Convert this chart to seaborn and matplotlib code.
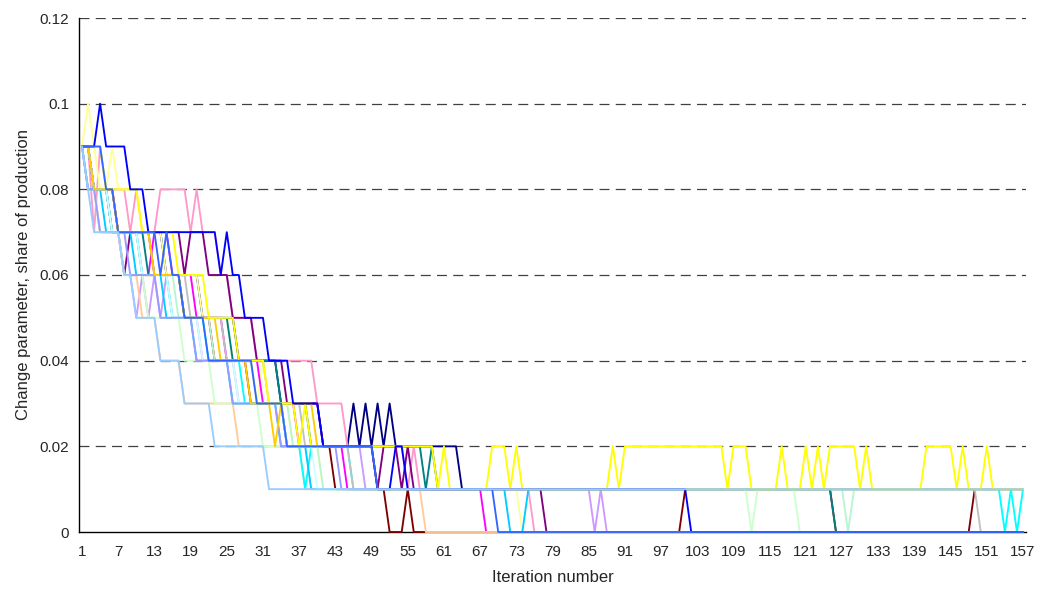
import numpy as np
import pandas as pd
import matplotlib
matplotlib.use("Agg")
import matplotlib.pyplot as plt
import seaborn as sns

# ---- data: each series as run-lengths of (value in hundredths, number of iterations)
iterations = list(range(1, 158))

runs_navy = [(9,2),(8,4),(7,8),(6,6),(5,6),(4,7),(3,7),(2,5),(3,1),(2,1),(3,1),(2,1),(3,1),(2,1),(3,1),(2,11),(1,94)]
runs_pink = [(9,2),(7,1),(9,1),(8,4),(7,1),(8,1),(7,3),(8,5),(7,1),(8,1),(7,3),(6,2),(5,4),(4,10),(3,5),(2,10),(1,1),(2,1),(1,19),(0,82)]
runs_lavender = [(9,1),(8,2),(7,4),(6,2),(5,1),(6,1),(5,1),(6,1),(5,1),(6,1),(5,5),(4,6),(3,8),(2,13),(1,38),(0,1),(1,1),(0,70)]
runs_pale_yellow = [(9,1),(10,1),(9,1),(8,2),(9,1),(8,4),(7,4),(6,6),(5,5),(4,4),(3,1),(4,1),(3,4),(2,5),(1,33),(0,84)]
runs_purple = [(9,2),(8,3),(7,2),(6,1),(7,9),(6,1),(7,3),(6,4),(5,4),(4,5),(3,6),(2,9),(1,1),(2,3),(1,1),(2,1),(1,22),(0,80)]
runs_magenta = [(9,2),(8,3),(7,5),(6,2),(7,3),(6,4),(5,5),(4,6),(3,6),(2,8),(1,23),(0,90)]
runs_maroon = [(9,2),(8,4),(7,6),(6,5),(5,5),(4,6),(3,6),(2,8),(1,9),(0,3),(1,1),(0,45),(1,25),(0,23),(1,9)]
runs_teal = [(9,2),(8,3),(7,6),(6,6),(5,8),(4,8),(3,5),(2,19),(1,1),(2,1),(1,66),(0,32)]
runs_tan = [(9,1),(8,2),(7,4),(6,3),(5,3),(4,4),(3,9),(2,11),(1,20),(0,100)]
runs_light_green = [(9,1),(8,2),(7,4),(6,4),(5,6),(4,5),(3,8),(2,8),(1,73),(0,1),(1,7),(0,38)]
runs_mint = [(9,2),(8,3),(7,5),(6,6),(5,6),(4,7),(3,6),(2,5),(1,87),(0,1),(1,29)]
runs_cyan = [(9,2),(8,3),(7,5),(6,5),(5,6),(4,6),(3,7),(2,3),(1,1),(2,7),(1,108),(0,1),(1,1),(0,1),(1,1)]
runs_sky = [(9,1),(8,3),(7,5),(6,5),(5,5),(4,6),(3,8),(2,5),(1,33),(0,3),(1,83)]
runs_light_cyan = [(9,2),(8,3),(7,5),(6,5),(5,5),(4,6),(3,8),(2,5),(1,118)]
runs_gray = [(9,2),(8,4),(7,6),(6,6),(5,6),(4,7),(3,6),(2,8),(1,104),(0,8)]
runs_periwinkle = [(9,1),(8,2),(7,5),(6,5),(5,6),(4,6),(3,8),(2,10),(1,114)]
runs_gold = [(9,2),(8,4),(7,6),(6,5),(5,6),(4,5),(3,4),(2,1),(3,6),(2,10),(1,108)]
runs_yellow = [(9,4),(8,6),(7,6),(6,5),(5,5),(4,5),(3,5),(2,1),(3,1),(2,21),(1,1),(2,1),(1,7),(2,3),(1,1),(2,1),
               (1,15),(2,1),(1,1),(2,17),(1,1),(2,3),(1,5),(2,1),(1,3),(2,1),(1,1),(2,1),(1,1),(2,5),(1,1),(2,1),
               (1,9),(2,5),(1,1),(2,1),(1,3),(2,1),(1,6)]
runs_blue = [(9,3),(10,1),(9,4),(8,3),(7,12),(6,1),(7,1),(6,2),(5,4),(4,4),(3,5),(2,9),(1,3),(2,2),(1,47),(0,56)]
runs_royal = [(9,4),(8,2),(7,7),(6,1),(7,1),(6,2),(5,4),(4,8),(3,5),(2,15),(1,20),(0,88)]
runs_light_blue = [(9,1),(8,1),(7,5),(6,2),(5,4),(4,4),(3,5),(2,9),(1,126)]

series_names = ["navy", "pink", "lavender", "pale_yellow", "purple", "magenta", "maroon", "teal", "tan",
                 "light_green", "mint", "cyan", "sky", "light_cyan", "gray", "periwinkle", "gold",
                 "yellow", "blue", "royal", "light_blue"]
series_runs = [runs_navy, runs_pink, runs_lavender, runs_pale_yellow, runs_purple, runs_magenta, runs_maroon,
               runs_teal, runs_tan, runs_light_green, runs_mint, runs_cyan, runs_sky, runs_light_cyan, runs_gray,
               runs_periwinkle, runs_gold, runs_yellow, runs_blue, runs_royal, runs_light_blue]
series_colors = ["#000080", "#FF99CC", "#CC99FF", "#FFFF99", "#800080", "#FF00FF", "#800000", "#008080", "#FFCC99",
                 "#CCFFCC", "#B8F5D0", "#00FFFF", "#00CCFF", "#CCFFFF", "#C0C0C0", "#9999FF", "#FFCC00",
                 "#FFFF00", "#0000FF", "#3366FF", "#99CCFF"]

y_ticks = [0, 0.02, 0.04, 0.06, 0.08, 0.10, 0.12]
y_tick_labels = ["0", "0.02", "0.04", "0.06", "0.08", "0.1", "0.12"]
x_tick_labels = list(range(1, 158, 6))


def expand(runs):
    vals = []
    for v, n in runs:
        vals.extend([v / 100.0] * n)
    return vals


frames = []
for name, runs in zip(series_names, series_runs):
    vals = expand(runs)
    assert len(vals) == len(iterations), (name, len(vals))
    frames.append(pd.DataFrame({"iteration": iterations, "value": vals, "series": name}))
df = pd.concat(frames, ignore_index=True)

sns.set_style("white")
plt.rcParams["font.family"] = ["Liberation Sans", "DejaVu Sans"]

fig = plt.figure(figsize=(10.42, 5.94), dpi=100)
ax = fig.add_axes([79 / 1042, 1 - 532 / 594, (1026 - 79) / 1042, (532 - 18) / 594])

for yt in y_ticks[1:]:
    ax.axhline(yt, color="#404040", linewidth=0.9, linestyle=(0, (8, 5)), zorder=0)

sns.lineplot(data=df, x="iteration", y="value", hue="series", hue_order=series_names,
             palette=dict(zip(series_names, series_colors)), estimator=None, sort=False,
             legend=False, linewidth=1.35, ax=ax)

for ln in ax.lines:
    if ln.get_linestyle() == "-":
        ln.set_clip_on(False)
        ln.set_zorder(3)

ax.set_xlim(0.5, 157.5)
ax.set_ylim(0, 0.12)
ax.set_yticks(y_ticks)
ax.set_yticklabels(y_tick_labels, fontsize=11)
ax.set_xticks(x_tick_labels)
ax.set_xticklabels([str(v) for v in x_tick_labels], fontsize=11)
ax.set_xticks(np.arange(0.5, 158, 1.0), minor=True)
ax.tick_params(axis="x", which="major", length=0, pad=9)
ax.tick_params(axis="x", which="minor", length=4, width=0.8, direction="out", color="black")
ax.tick_params(axis="y", which="major", length=4, width=0.8, direction="out", color="black", pad=3)

for side in ["top", "right"]:
    ax.spines[side].set_visible(False)
for side in ["left", "bottom"]:
    ax.spines[side].set_color("black")
    ax.spines[side].set_linewidth(1.0)
    ax.spines[side].set_zorder(2)

ax.set_xlabel("Iteration number", fontsize=12, labelpad=8)
ax.set_ylabel("Change parameter, share of production", fontsize=12, labelpad=6)

fig.savefig("out.png", dpi=100)
